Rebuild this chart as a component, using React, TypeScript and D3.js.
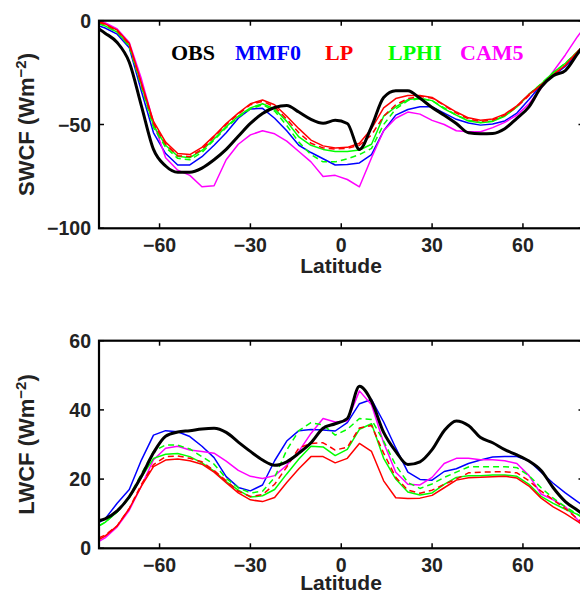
import React from "react";
import * as d3 from "d3";

const LAT = [-80, -78, -74, -70, -66, -62, -58, -54, -50, -46, -42, -38, -34, -30, -26, -22, -18, -14, -10, -6, -2, 2, 6, 10, 14, 18, 22, 26, 30, 34, 38, 42, 46, 50, 54, 58, 62, 66, 70, 74, 78, 82];

// SWCF (W m-2)
const SW_OBS = [-4, -6, -10.5, -20, -41, -62, -70, -73, -73, -71, -67, -62, -55.7, -49.5, -44.7, -41.8, -40.8, -44, -47.5, -49.4, -48, -49.5, -62, -51, -37, -33.7, -33.8, -37.4, -41.8, -45.5, -49.5, -54, -54.5, -54.3, -52, -47, -41.5, -32, -26.5, -24, -16, -8];
const SW_MMF0 = [-2.5, -3.5, -6.5, -13, -34, -54, -64, -69.5, -69.5, -65.5, -60, -54, -47, -42.5, -42.2, -47, -53, -60, -63.5, -66.5, -69.5, -69.3, -68.5, -64.5, -53, -45.5, -42.8, -41.5, -41.5, -44.5, -47.5, -49.3, -50.3, -49.8, -48.3, -44.5, -38, -31, -26.5, -22, -16, -10];
const SW_LP = [-0.5, -1.5, -4.5, -11, -30, -48.5, -58.5, -64, -64.5, -61, -55.5, -49.5, -44.5, -40, -38.2, -40.5, -46, -52, -57.5, -60.3, -61.3, -61, -59, -52, -42, -37.5, -36, -36, -37, -40.5, -44, -46.8, -48, -47.3, -45, -41, -35.5, -31, -26, -21.5, -15, -9];
const SW_LP_DASH = [-0.8, -1.8, -4.8, -11.5, -30.5, -49.5, -59.5, -65, -65.5, -62, -56, -50, -45, -40.5, -38.8, -41.5, -47.5, -54, -59, -61.3, -61.8, -61.5, -60, -55, -46, -40.5, -37.5, -36.5, -37.3, -40.8, -44.5, -47.3, -48.5, -47.8, -45.5, -41.5, -36, -31, -26, -21.5, -15, -9];
const SW_LPHI = [-1.5, -2.5, -5.5, -12, -31, -50.5, -60, -65.3, -66, -62.5, -57, -51, -46, -42, -40, -42.5, -48.5, -56, -60, -62, -63, -63, -62.3, -59.5, -46, -41.5, -38, -37.4, -38.5, -42.5, -45.5, -48.3, -49.2, -48.5, -46, -41.5, -35.5, -30.5, -25, -20.5, -15, -9];
const SW_LPHI_DASH = [-1.5, -2.5, -5.5, -12.5, -32, -51.5, -61, -66.3, -67, -63.5, -57.5, -51.5, -46.5, -42.5, -40.5, -43.5, -50.5, -58.5, -64.5, -68, -68, -66.5, -64.5, -61.5, -50, -42.5, -38.5, -37.5, -38.5, -42, -45.5, -48, -49, -48.3, -45.7, -41.3, -35.5, -30.3, -25, -20.5, -15, -9];
const SW_CAM5 = [0, -1, -4, -10.5, -28, -49, -66, -72, -74.5, -80, -79.5, -67, -59.5, -55, -53, -54.5, -58, -63, -68, -75, -74.5, -76.5, -80, -66, -53, -47, -44, -45, -48, -50, -53, -53.5, -53.5, -51.5, -49, -45.5, -40, -32.5, -24.5, -16.5, -7.7, 0];

// LWCF (W m-2)
const LW_OBS = [8, 8.5, 10.8, 14.9, 20.8, 27.6, 32.4, 33.6, 34, 34.5, 34.7, 33.5, 30.7, 28, 25.5, 24, 25, 27.5, 30.5, 34.7, 36, 37.5, 46.8, 42.5, 33.5, 28, 24.2, 25, 28.5, 34, 36.8, 35.5, 32, 30.5, 28.5, 27, 25.2, 22.5, 17.5, 13.5, 11, 8.5];
const LW_MMF0 = [7.5, 8.5, 13, 17, 25.5, 32.7, 34, 33.7, 32.3, 29.5, 26.2, 20.7, 17.6, 16.6, 18.3, 25.3, 31, 34, 34.3, 34.2, 33.9, 36.3, 41.8, 43, 36.5, 29, 22, 19.9, 19.7, 22.2, 23, 24.5, 25.5, 26.4, 26.5, 26.5, 25.3, 22, 18.8, 16, 13.5, 11];
const LW_LP = [2.5, 3.5, 6.5, 11.5, 18, 23.6, 25.5, 25.8, 25.3, 24.3, 22, 19, 16, 14, 13.5, 14.7, 19, 23, 26.5, 26.5, 24.7, 26, 30.3, 28, 19.5, 14.6, 14.4, 14.5, 15.3, 17.5, 19.7, 20.4, 20.5, 20.7, 20.8, 20.3, 18, 14.5, 12, 10, 7.8, 5.5];
const LW_LP_DASH = [3, 3.8, 6.5, 11.5, 18.5, 24.2, 26.5, 26.7, 26, 25, 22.5, 19.5, 16.5, 15, 15.5, 18.5, 23.5, 29, 30.3, 30.5, 28.4, 29.2, 34.8, 35.5, 27.5, 20.5, 16.8, 15.9, 16.8, 18.5, 20, 21.8, 22, 22.1, 22.1, 21.8, 19.5, 16.5, 14, 11.5, 8.5, 6];
const LW_LPHI = [6.5, 7.5, 10.5, 14.5, 20.5, 26, 27.2, 27.4, 26.5, 24.7, 22.3, 19.3, 16.8, 14.8, 15.2, 17, 21.5, 25.8, 29.5, 29.3, 26.8, 28.6, 34.4, 36, 26, 20, 16.3, 15.4, 16, 18.5, 20.5, 21, 21, 21.2, 21.2, 20.8, 18.5, 15, 13, 11.3, 9.8, 8];
const LW_LPHI_DASH = [6.5, 7.5, 10.5, 15, 21.5, 28, 29.9, 29.8, 28.7, 26.5, 24.3, 20.2, 17.5, 16, 16.5, 20.5, 28.4, 34, 36.3, 35.7, 32.7, 34.4, 37.5, 37.2, 31, 24, 19, 17.3, 18.6, 20.5, 22, 23.5, 23.6, 23.6, 23.6, 23.3, 21, 17.5, 14.5, 12, 9.8, 7.5];
const LW_CAM5 = [2, 3, 6.2, 11, 18, 25.6, 28.9, 29.5, 28.4, 28, 27.5, 25.2, 22.5, 20.8, 20.2, 21, 24, 28, 33.2, 37.5, 36.5, 36.8, 45.5, 41.5, 30.5, 22, 18.5, 18.3, 20.5, 24.5, 26, 26, 25.6, 25.6, 25.3, 24.5, 21, 15.7, 14, 12, 8.3, 5];

const X_TICKS = [-60, -30, 0, 30, 60];
const SW_TICKS = [-100, -50, 0];
const LW_TICKS = [0, 20, 40, 60];

const LEGEND_NAMES = ["OBS", "MMF0", "LP", "LPHI", "CAM5"];
const LEGEND_COLORS = ["#000000", "#0000ff", "#ff0000", "#00ff00", "#ff00ff"];
const LEGEND_X = [171, 235, 325, 388, 460];

const SANS = "'Liberation Sans', Arial, Helvetica, sans-serif";
const SERIF = "'Liberation Serif', 'Times New Roman', serif";

const X0 = 99;
const X1 = 583.5;
const x = d3.scaleLinear().domain([-80, 80]).range([X0, X1]);
const fmt = (v: number) => (v < 0 ? "\u2212" + Math.abs(v) : String(v));

type Series = { values: number[]; color: string; width: number; dash?: string; smooth?: boolean };

function Panel(props: {
  id: string;
  top: number;
  bottom: number;
  domain: [number, number];
  ticks: number[];
  label: string;
  series: Series[];
  titleOffset: number;
}) {
  const { id, top, bottom, domain, ticks, label, series, titleOffset } = props;
  const y = d3.scaleLinear().domain(domain).range([bottom, top]);
  const mk = (smooth?: boolean) =>
    d3
      .line<number>()
      .x((_, i) => x(LAT[i]))
      .y((v) => y(v))
      .curve(smooth ? d3.curveMonotoneX : d3.curveLinear);
  const tl = 5;
  const midY = (top + bottom) / 2;
  return (
    <g>
      <defs>
        <clipPath id={id}>
          <rect x={X0} y={top} width={X1 - X0} height={bottom - top} />
        </clipPath>
      </defs>
      <g clipPath={`url(#${id})`}>
        {series.map((s, k) => (
          <path
            key={k}
            d={mk(s.smooth)(s.values) || ""}
            fill="none"
            stroke={s.color}
            strokeWidth={s.width}
            strokeDasharray={s.dash}
            strokeLinejoin="round"
          />
        ))}
      </g>
      {X_TICKS.map((t) => (
        <g key={"xt" + t}>
          <line x1={x(t)} x2={x(t)} y1={bottom} y2={bottom - tl} stroke="#000" strokeWidth={1.5} />
          <line x1={x(t)} x2={x(t)} y1={top} y2={top + tl} stroke="#000" strokeWidth={1.5} />
          <text x={x(t)} y={bottom + 24} textAnchor="middle" fontFamily={SANS} fontWeight="bold" fontSize={19.5} fill="#222">
            {fmt(t)}
          </text>
        </g>
      ))}
      {ticks.map((t) => (
        <g key={"yt" + t}>
          <line x1={X0} x2={X0 + tl} y1={y(t)} y2={y(t)} stroke="#000" strokeWidth={1.5} />
          <line x1={X1} x2={X1 - tl} y1={y(t)} y2={y(t)} stroke="#000" strokeWidth={1.5} />
          <text x={91} y={y(t) + 7} textAnchor="end" fontFamily={SANS} fontWeight="bold" fontSize={19.5} fill="#222">
            {fmt(t)}
          </text>
        </g>
      ))}
      <rect x={X0} y={top} width={X1 - X0} height={bottom - top} fill="none" stroke="#000" strokeWidth={2.2} />
      <text x={341} y={bottom + titleOffset} textAnchor="middle" fontFamily={SANS} fontWeight="bold" fontSize={21} fill="#222">
        Latitude
      </text>
      <text
        transform={`translate(34,${midY}) rotate(-90)`}
        textAnchor="middle"
        fontFamily={SANS}
        fontWeight="bold"
        fontSize={22}
        fill="#222"
      >
        {label + " (Wm"}
        <tspan dy={-8} fontSize={15}>
          {"\u22122"}
        </tspan>
        <tspan dy={8}>{")"}</tspan>
      </text>
    </g>
  );
}

export default function App() {
  const swSeries: Series[] = [
    { values: SW_MMF0, color: "#0000ff", width: 1.5 },
    { values: SW_CAM5, color: "#ff00ff", width: 1.5 },
    { values: SW_LPHI_DASH, color: "#00ff00", width: 1.5, dash: "6,4" },
    { values: SW_LPHI, color: "#00ff00", width: 1.5 },
    { values: SW_LP_DASH, color: "#ff0000", width: 1.5, dash: "6,4" },
    { values: SW_LP, color: "#ff0000", width: 1.5 },
    { values: SW_OBS, color: "#000000", width: 3, smooth: true },
  ];
  const lwSeries: Series[] = [
    { values: LW_MMF0, color: "#0000ff", width: 1.5 },
    { values: LW_CAM5, color: "#ff00ff", width: 1.5 },
    { values: LW_LPHI_DASH, color: "#00ff00", width: 1.5, dash: "6,4" },
    { values: LW_LPHI, color: "#00ff00", width: 1.5 },
    { values: LW_LP_DASH, color: "#ff0000", width: 1.5, dash: "6,4" },
    { values: LW_LP, color: "#ff0000", width: 1.5 },
    { values: LW_OBS, color: "#000000", width: 3, smooth: true },
  ];
  return (
    <svg
      width={580}
      height={595}
      style={{ position: "absolute", left: 0, top: 0, background: "#fff" }}
    >
      <rect x={0} y={0} width={580} height={595} fill="#fff" />
      <Panel id="clipSW" top={20.7} bottom={228.3} domain={[-100, 0]} ticks={SW_TICKS} label="SWCF" series={swSeries} titleOffset={45} />
      <Panel id="clipLW" top={340.7} bottom={548.3} domain={[0, 60]} ticks={LW_TICKS} label="LWCF" series={lwSeries} titleOffset={41.5} />
      {LEGEND_NAMES.map((n, i) => (
        <text key={n} x={LEGEND_X[i]} y={60} fontFamily={SERIF} fontWeight="bold" fontSize={22} fill={LEGEND_COLORS[i]}>
          {n}
        </text>
      ))}
    </svg>
  );
}
